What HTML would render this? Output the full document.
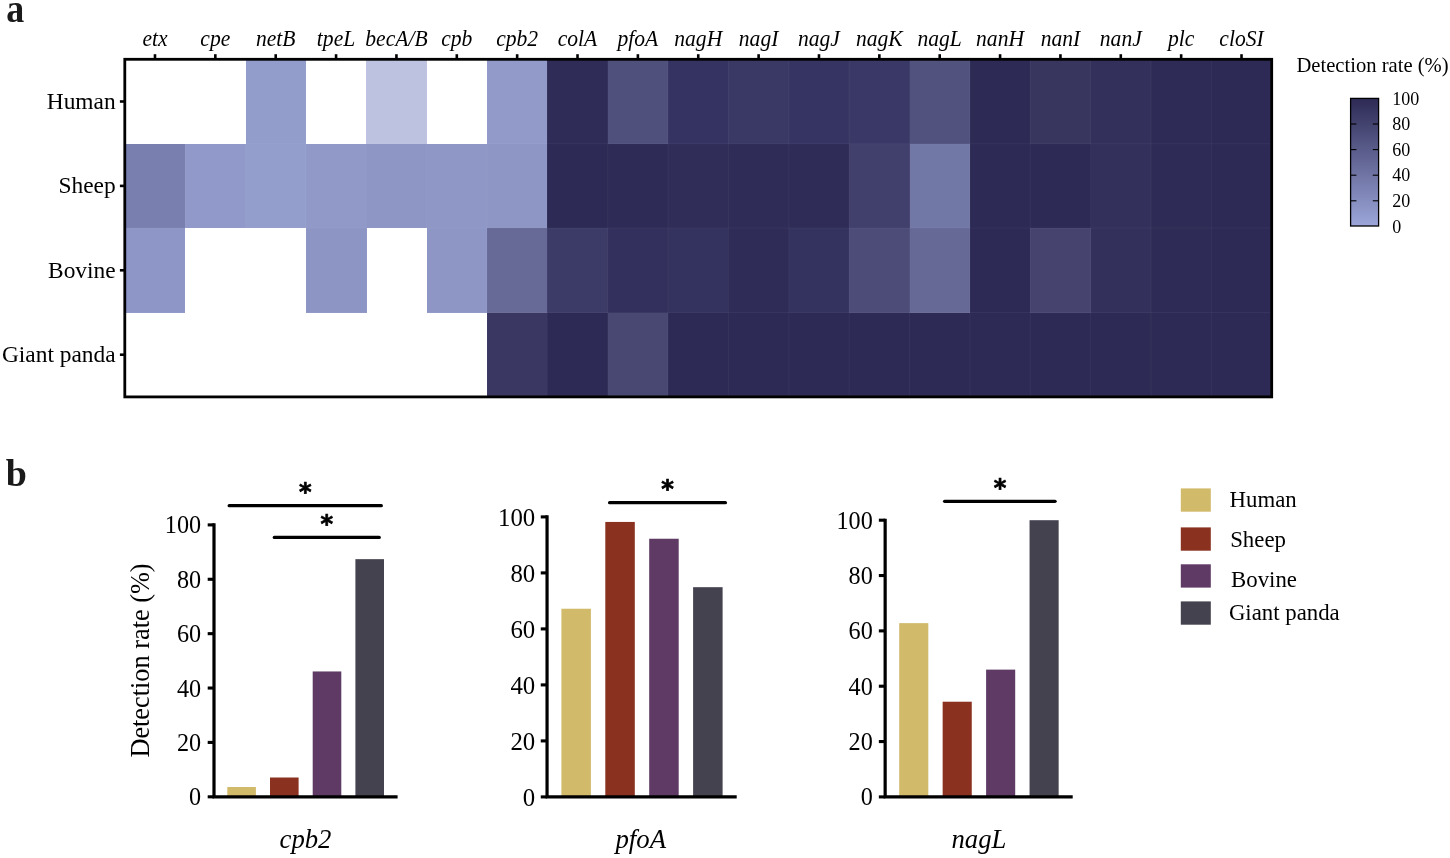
<!DOCTYPE html>
<html lang="en">
<head>
<meta charset="utf-8">
<title>Figure</title>
<style>
html,body{margin:0;padding:0;background:#fff;}
body{width:1450px;height:858px;overflow:hidden;}
svg{display:block;will-change:transform;}
text{font-family:"Liberation Serif","Times New Roman",serif;fill:#000;}
.it{font-style:italic;}
.b{font-weight:bold;}
</style>
</head>
<body>
<svg width="1450" height="858" viewBox="0 0 1450 858">
<rect width="1450" height="858" fill="#fff"/>
<text class="b" transform="translate(6.3 21.65) scale(0.91 1)" font-size="39.5" style="fill:#1a1a1a">a</text>
<text class="b" x="5.85" y="485.7" font-size="38" style="fill:#1a1a1a">b</text>
<g shape-rendering="crispEdges">
<rect x="245.53" y="59.30" width="60.66" height="84.70" fill="#939DCB"/>
<rect x="366.25" y="59.30" width="60.66" height="84.70" fill="#BCC2E0"/>
<rect x="486.98" y="59.30" width="60.66" height="84.70" fill="#929ACA"/>
<rect x="547.34" y="59.30" width="60.66" height="84.70" fill="#2F2C58"/>
<rect x="607.71" y="59.30" width="60.66" height="84.70" fill="#50507D"/>
<rect x="668.07" y="59.30" width="60.66" height="84.70" fill="#353361"/>
<rect x="728.43" y="59.30" width="60.66" height="84.70" fill="#3A3865"/>
<rect x="788.79" y="59.30" width="60.66" height="84.70" fill="#363462"/>
<rect x="849.16" y="59.30" width="60.66" height="84.70" fill="#3A3866"/>
<rect x="909.52" y="59.30" width="60.66" height="84.70" fill="#52527F"/>
<rect x="969.88" y="59.30" width="60.66" height="84.70" fill="#2D2A55"/>
<rect x="1030.25" y="59.30" width="60.66" height="84.70" fill="#38355F"/>
<rect x="1090.61" y="59.30" width="60.66" height="84.70" fill="#33315C"/>
<rect x="1150.97" y="59.30" width="60.66" height="84.70" fill="#2E2B56"/>
<rect x="1211.34" y="59.30" width="60.66" height="84.70" fill="#2D2A55"/>
<rect x="124.80" y="143.70" width="60.66" height="84.70" fill="#797FAE"/>
<rect x="185.16" y="143.70" width="60.66" height="84.70" fill="#9199CA"/>
<rect x="245.53" y="143.70" width="60.66" height="84.70" fill="#939ECC"/>
<rect x="305.89" y="143.70" width="60.66" height="84.70" fill="#9199C9"/>
<rect x="366.25" y="143.70" width="60.66" height="84.70" fill="#8E96C6"/>
<rect x="426.62" y="143.70" width="60.66" height="84.70" fill="#8F97C7"/>
<rect x="486.98" y="143.70" width="60.66" height="84.70" fill="#8E96C5"/>
<rect x="547.34" y="143.70" width="60.66" height="84.70" fill="#2D2A55"/>
<rect x="607.71" y="143.70" width="60.66" height="84.70" fill="#2E2B56"/>
<rect x="668.07" y="143.70" width="60.66" height="84.70" fill="#302D59"/>
<rect x="728.43" y="143.70" width="60.66" height="84.70" fill="#2F2C58"/>
<rect x="788.79" y="143.70" width="60.66" height="84.70" fill="#2F2C58"/>
<rect x="849.16" y="143.70" width="60.66" height="84.70" fill="#413F6B"/>
<rect x="909.52" y="143.70" width="60.66" height="84.70" fill="#7178A6"/>
<rect x="969.88" y="143.70" width="60.66" height="84.70" fill="#2D2A55"/>
<rect x="1030.25" y="143.70" width="60.66" height="84.70" fill="#2D2A55"/>
<rect x="1090.61" y="143.70" width="60.66" height="84.70" fill="#33315C"/>
<rect x="1150.97" y="143.70" width="60.66" height="84.70" fill="#2E2B56"/>
<rect x="1211.34" y="143.70" width="60.66" height="84.70" fill="#2D2A55"/>
<rect x="124.80" y="228.10" width="60.66" height="84.70" fill="#8E96C7"/>
<rect x="305.89" y="228.10" width="60.66" height="84.70" fill="#8D95C5"/>
<rect x="426.62" y="228.10" width="60.66" height="84.70" fill="#8E96C6"/>
<rect x="486.98" y="228.10" width="60.66" height="84.70" fill="#676996"/>
<rect x="547.34" y="228.10" width="60.66" height="84.70" fill="#3C3A67"/>
<rect x="607.71" y="228.10" width="60.66" height="84.70" fill="#33305D"/>
<rect x="668.07" y="228.10" width="60.66" height="84.70" fill="#34325E"/>
<rect x="728.43" y="228.10" width="60.66" height="84.70" fill="#2F2C58"/>
<rect x="788.79" y="228.10" width="60.66" height="84.70" fill="#34325F"/>
<rect x="849.16" y="228.10" width="60.66" height="84.70" fill="#4D4C79"/>
<rect x="909.52" y="228.10" width="60.66" height="84.70" fill="#666996"/>
<rect x="969.88" y="228.10" width="60.66" height="84.70" fill="#2D2A55"/>
<rect x="1030.25" y="228.10" width="60.66" height="84.70" fill="#46446F"/>
<rect x="1090.61" y="228.10" width="60.66" height="84.70" fill="#33315C"/>
<rect x="1150.97" y="228.10" width="60.66" height="84.70" fill="#2E2B56"/>
<rect x="1211.34" y="228.10" width="60.66" height="84.70" fill="#2D2A55"/>
<rect x="486.98" y="312.50" width="60.66" height="84.70" fill="#3A3762"/>
<rect x="547.34" y="312.50" width="60.66" height="84.70" fill="#2D2A55"/>
<rect x="607.71" y="312.50" width="60.66" height="84.70" fill="#494872"/>
<rect x="668.07" y="312.50" width="60.66" height="84.70" fill="#2D2A55"/>
<rect x="728.43" y="312.50" width="60.66" height="84.70" fill="#2D2A55"/>
<rect x="788.79" y="312.50" width="60.66" height="84.70" fill="#2D2A55"/>
<rect x="849.16" y="312.50" width="60.66" height="84.70" fill="#2D2A55"/>
<rect x="909.52" y="312.50" width="60.66" height="84.70" fill="#2D2A55"/>
<rect x="969.88" y="312.50" width="60.66" height="84.70" fill="#2D2A55"/>
<rect x="1030.25" y="312.50" width="60.66" height="84.70" fill="#2D2A55"/>
<rect x="1090.61" y="312.50" width="60.66" height="84.70" fill="#2D2A55"/>
<rect x="1150.97" y="312.50" width="60.66" height="84.70" fill="#2D2A55"/>
<rect x="1211.34" y="312.50" width="60.66" height="84.70" fill="#2D2A55"/>
</g>
<g stroke="#fff" stroke-opacity="0.045" stroke-width="1">
<line x1="185.16" y1="59.3" x2="185.16" y2="396.9"/>
<line x1="245.53" y1="59.3" x2="245.53" y2="396.9"/>
<line x1="305.89" y1="59.3" x2="305.89" y2="396.9"/>
<line x1="366.25" y1="59.3" x2="366.25" y2="396.9"/>
<line x1="426.62" y1="59.3" x2="426.62" y2="396.9"/>
<line x1="486.98" y1="59.3" x2="486.98" y2="396.9"/>
<line x1="547.34" y1="59.3" x2="547.34" y2="396.9"/>
<line x1="607.71" y1="59.3" x2="607.71" y2="396.9"/>
<line x1="668.07" y1="59.3" x2="668.07" y2="396.9"/>
<line x1="728.43" y1="59.3" x2="728.43" y2="396.9"/>
<line x1="788.79" y1="59.3" x2="788.79" y2="396.9"/>
<line x1="849.16" y1="59.3" x2="849.16" y2="396.9"/>
<line x1="909.52" y1="59.3" x2="909.52" y2="396.9"/>
<line x1="969.88" y1="59.3" x2="969.88" y2="396.9"/>
<line x1="1030.25" y1="59.3" x2="1030.25" y2="396.9"/>
<line x1="1090.61" y1="59.3" x2="1090.61" y2="396.9"/>
<line x1="1150.97" y1="59.3" x2="1150.97" y2="396.9"/>
<line x1="1211.34" y1="59.3" x2="1211.34" y2="396.9"/>
<line x1="124.8" y1="143.70" x2="1271.7" y2="143.70"/>
<line x1="124.8" y1="228.10" x2="1271.7" y2="228.10"/>
<line x1="124.8" y1="312.50" x2="1271.7" y2="312.50"/>
</g>
<rect x="124.8" y="59.3" width="1146.9" height="337.59999999999997" fill="none" stroke="#000" stroke-width="2.8"/>
<g stroke="#000" stroke-width="2.6">
<line x1="154.98" y1="59.3" x2="154.98" y2="54.2"/>
<line x1="215.34" y1="59.3" x2="215.34" y2="54.2"/>
<line x1="275.71" y1="59.3" x2="275.71" y2="54.2"/>
<line x1="336.07" y1="59.3" x2="336.07" y2="54.2"/>
<line x1="396.43" y1="59.3" x2="396.43" y2="54.2"/>
<line x1="456.80" y1="59.3" x2="456.80" y2="54.2"/>
<line x1="517.16" y1="59.3" x2="517.16" y2="54.2"/>
<line x1="577.52" y1="59.3" x2="577.52" y2="54.2"/>
<line x1="637.89" y1="59.3" x2="637.89" y2="54.2"/>
<line x1="698.25" y1="59.3" x2="698.25" y2="54.2"/>
<line x1="758.61" y1="59.3" x2="758.61" y2="54.2"/>
<line x1="818.98" y1="59.3" x2="818.98" y2="54.2"/>
<line x1="879.34" y1="59.3" x2="879.34" y2="54.2"/>
<line x1="939.70" y1="59.3" x2="939.70" y2="54.2"/>
<line x1="1000.07" y1="59.3" x2="1000.07" y2="54.2"/>
<line x1="1060.43" y1="59.3" x2="1060.43" y2="54.2"/>
<line x1="1120.79" y1="59.3" x2="1120.79" y2="54.2"/>
<line x1="1181.16" y1="59.3" x2="1181.16" y2="54.2"/>
<line x1="1241.52" y1="59.3" x2="1241.52" y2="54.2"/>
<line x1="124.8" y1="101.50" x2="119.9" y2="101.50"/>
<line x1="124.8" y1="185.90" x2="119.9" y2="185.90"/>
<line x1="124.8" y1="270.30" x2="119.9" y2="270.30"/>
<line x1="124.8" y1="354.70" x2="119.9" y2="354.70"/>
</g>
<g class="it" font-size="21.6" text-anchor="middle" transform="translate(0 46.0) scale(1 1.05)">
<text x="154.98" y="0">etx</text>
<text x="215.34" y="0">cpe</text>
<text x="275.71" y="0">netB</text>
<text x="336.07" y="0">tpeL</text>
<text x="396.43" y="0">becA/B</text>
<text x="456.80" y="0">cpb</text>
<text x="517.16" y="0">cpb2</text>
<text x="577.52" y="0">colA</text>
<text x="637.89" y="0">pfoA</text>
<text x="698.25" y="0">nagH</text>
<text x="758.61" y="0">nagI</text>
<text x="818.98" y="0">nagJ</text>
<text x="879.34" y="0">nagK</text>
<text x="939.70" y="0">nagL</text>
<text x="1000.07" y="0">nanH</text>
<text x="1060.43" y="0">nanI</text>
<text x="1120.79" y="0">nanJ</text>
<text x="1181.16" y="0">plc</text>
<text x="1241.52" y="0">cloSI</text>
</g>
<g font-size="23.4" text-anchor="end">
<text x="115.65" y="108.90">Human</text>
<text x="115.65" y="193.30">Sheep</text>
<text x="115.65" y="277.70">Bovine</text>
<text x="115.65" y="362.10">Giant panda</text>
</g>
<defs><linearGradient id="cb" x1="0" y1="0" x2="0" y2="1"><stop offset="0" stop-color="#2D2A55"/><stop offset="1" stop-color="#9CA6D9"/></linearGradient></defs>
<text x="1296.5" y="71.5" font-size="20.6">Detection rate (%)</text>
<rect x="1350.6" y="98.4" width="28.0" height="127.6" fill="url(#cb)" stroke="#000" stroke-width="1.3"/>
<g stroke="#000" stroke-width="1.1">
<line x1="1350.6" y1="124.00" x2="1356.4" y2="124.00"/><line x1="1372.8" y1="124.00" x2="1378.6" y2="124.00"/>
<line x1="1350.6" y1="149.60" x2="1356.4" y2="149.60"/><line x1="1372.8" y1="149.60" x2="1378.6" y2="149.60"/>
<line x1="1350.6" y1="175.20" x2="1356.4" y2="175.20"/><line x1="1372.8" y1="175.20" x2="1378.6" y2="175.20"/>
<line x1="1350.6" y1="200.80" x2="1356.4" y2="200.80"/><line x1="1372.8" y1="200.80" x2="1378.6" y2="200.80"/>
</g>
<g font-size="18">
<text x="1392.3" y="104.60">100</text>
<text x="1392.3" y="130.20">80</text>
<text x="1392.3" y="155.80">60</text>
<text x="1392.3" y="181.40">40</text>
<text x="1392.3" y="207.00">20</text>
<text x="1392.3" y="232.60">0</text>
</g>
<rect x="227.30" y="787.01" width="28.6" height="9.79" fill="#D2BA6B"/>
<rect x="270.00" y="777.50" width="28.6" height="19.30" fill="#8A3120"/>
<rect x="312.70" y="671.45" width="28.6" height="125.35" fill="#5E3A64"/>
<rect x="355.40" y="559.16" width="28.6" height="237.64" fill="#44424F"/>
<path d="M214.00 523.35V796.80H397.60" fill="none" stroke="#000" stroke-width="3.2"/>
<g stroke="#000" stroke-width="3.1">
<line x1="207.70" y1="524.90" x2="214.00" y2="524.90"/>
<line x1="207.70" y1="579.28" x2="214.00" y2="579.28"/>
<line x1="207.70" y1="633.66" x2="214.00" y2="633.66"/>
<line x1="207.70" y1="688.04" x2="214.00" y2="688.04"/>
<line x1="207.70" y1="742.42" x2="214.00" y2="742.42"/>
<line x1="207.70" y1="796.80" x2="214.00" y2="796.80"/>
</g>
<g font-size="24.2" text-anchor="end">
<text x="201.10" y="533.38">100</text>
<text x="201.10" y="587.76">80</text>
<text x="201.10" y="642.14">60</text>
<text x="201.10" y="696.52">40</text>
<text x="201.10" y="750.90">20</text>
<text x="201.10" y="805.28">0</text>
</g>
<text class="it" x="305.5" y="848" font-size="26.7" text-anchor="middle">cpb2</text>
<line x1="229.2" y1="505.7" x2="381.3" y2="505.7" stroke="#000" stroke-width="3.3" stroke-linecap="round"/>
<text x="305.35" y="500.4" font-size="24" text-anchor="middle" style="font-family:'DejaVu Sans',sans-serif;font-weight:bold;stroke:#000;stroke-width:0.7px">*</text>
<line x1="274.3" y1="537.4" x2="379.2" y2="537.4" stroke="#000" stroke-width="3.3" stroke-linecap="round"/>
<text x="326.85" y="532.1" font-size="24" text-anchor="middle" style="font-family:'DejaVu Sans',sans-serif;font-weight:bold;stroke:#000;stroke-width:0.7px">*</text>
<text transform="translate(148.5 660.5) rotate(-90)" font-size="26.3" text-anchor="middle">Detection rate (%)</text>
<rect x="561.40" y="608.74" width="29.5" height="188.16" fill="#D2BA6B"/>
<rect x="605.30" y="521.94" width="29.5" height="274.96" fill="#8A3120"/>
<rect x="649.20" y="538.74" width="29.5" height="258.16" fill="#5E3A64"/>
<rect x="693.10" y="587.18" width="29.5" height="209.72" fill="#44424F"/>
<path d="M547.05 515.35V796.90H736.70" fill="none" stroke="#000" stroke-width="3.2"/>
<g stroke="#000" stroke-width="3.1">
<line x1="540.75" y1="516.90" x2="547.05" y2="516.90"/>
<line x1="540.75" y1="572.90" x2="547.05" y2="572.90"/>
<line x1="540.75" y1="628.90" x2="547.05" y2="628.90"/>
<line x1="540.75" y1="684.90" x2="547.05" y2="684.90"/>
<line x1="540.75" y1="740.90" x2="547.05" y2="740.90"/>
<line x1="540.75" y1="796.90" x2="547.05" y2="796.90"/>
</g>
<g font-size="24.8" text-anchor="end">
<text x="535.25" y="525.58">100</text>
<text x="535.25" y="581.58">80</text>
<text x="535.25" y="637.58">60</text>
<text x="535.25" y="693.58">40</text>
<text x="535.25" y="749.58">20</text>
<text x="535.25" y="805.58">0</text>
</g>
<text class="it" x="640.75" y="848.4" font-size="26.8" text-anchor="middle">pfoA</text>
<line x1="609.6" y1="502.7" x2="725.4" y2="502.7" stroke="#000" stroke-width="3.3" stroke-linecap="round"/>
<text x="667.60" y="497.4" font-size="24" text-anchor="middle" style="font-family:'DejaVu Sans',sans-serif;font-weight:bold;stroke:#000;stroke-width:0.7px">*</text>
<rect x="899.20" y="623.13" width="29.1" height="173.77" fill="#D2BA6B"/>
<rect x="942.65" y="701.72" width="29.1" height="95.18" fill="#8A3120"/>
<rect x="986.10" y="669.62" width="29.1" height="127.28" fill="#5E3A64"/>
<rect x="1029.55" y="520.20" width="29.1" height="276.70" fill="#44424F"/>
<path d="M885.15 518.65V796.90H1072.70" fill="none" stroke="#000" stroke-width="3.2"/>
<g stroke="#000" stroke-width="3.1">
<line x1="878.85" y1="520.20" x2="885.15" y2="520.20"/>
<line x1="878.85" y1="575.54" x2="885.15" y2="575.54"/>
<line x1="878.85" y1="630.88" x2="885.15" y2="630.88"/>
<line x1="878.85" y1="686.22" x2="885.15" y2="686.22"/>
<line x1="878.85" y1="741.56" x2="885.15" y2="741.56"/>
<line x1="878.85" y1="796.90" x2="885.15" y2="796.90"/>
</g>
<g font-size="24.2" text-anchor="end">
<text x="872.75" y="528.68">100</text>
<text x="872.75" y="584.02">80</text>
<text x="872.75" y="639.36">60</text>
<text x="872.75" y="694.70">40</text>
<text x="872.75" y="750.04">20</text>
<text x="872.75" y="805.38">0</text>
</g>
<text class="it" x="978.9" y="847.9" font-size="26.7" text-anchor="middle">nagL</text>
<line x1="944.6" y1="501.3" x2="1055.1" y2="501.3" stroke="#000" stroke-width="3.3" stroke-linecap="round"/>
<text x="999.95" y="496.0" font-size="24" text-anchor="middle" style="font-family:'DejaVu Sans',sans-serif;font-weight:bold;stroke:#000;stroke-width:0.7px">*</text>
<rect x="1180.8" y="488.4" width="30" height="23.3" fill="#D2BA6B"/>
<text x="1229.6" y="507.4" font-size="22.8">Human</text>
<rect x="1180.8" y="527.4" width="30" height="23.3" fill="#8A3120"/>
<text x="1230.2" y="546.6" font-size="22.8">Sheep</text>
<rect x="1180.8" y="564.3" width="30" height="23.3" fill="#5E3A64"/>
<text x="1231.1" y="587.2" font-size="22.8">Bovine</text>
<rect x="1180.8" y="601.4" width="30" height="23.3" fill="#44424F"/>
<text x="1228.9" y="620.2" font-size="22.8">Giant panda</text>
</svg>
</body>
</html>
